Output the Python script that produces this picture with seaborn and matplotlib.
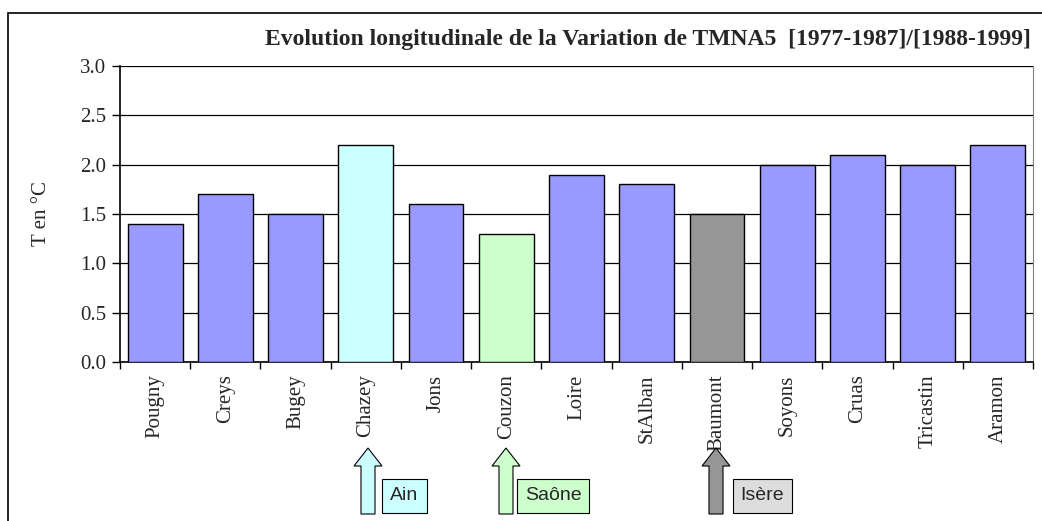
import numpy as np
import matplotlib.pyplot as plt
import matplotlib.patches as mpatches
import seaborn as sns

stations = ["Pougny", "Creys", "Bugey", "Chazey", "Jons", "Couzon", "Loire",
            "StAlban", "Baumont", "Soyons", "Cruas", "Tricastin", "Aramon"]
values = [1.4, 1.7, 1.5, 2.2, 1.6, 1.3, 1.9, 1.8, 1.5, 2.0, 2.1, 2.0, 2.2]
bar_colors = ["#9999FF", "#9999FF", "#9999FF", "#CCFFFF", "#9999FF", "#CCFFCC",
              "#9999FF", "#9999FF", "#969696", "#9999FF", "#9999FF", "#9999FF", "#9999FF"]

# tributaries : (label, arrow colour, box colour)
rivers = ["Ain", "Saône", "Isère"]
river_arrow_colors = ["#CCFFFF", "#CCFFCC", "#969696"]
river_box_colors = ["#CCFFFF", "#CCFFCC", "#DDDDDD"]

sns.set_style("white")
plt.rcParams['font.family'] = ['Liberation Serif', 'DejaVu Serif']

W, H = 1042, 521
fig = plt.figure(figsize=(W / 100, H / 100), dpi=100)
ax = fig.add_axes([120 / W, 1 - 362 / H, (1033 - 120) / W, (362 - 66) / H])

sns.barplot(x=stations, y=values, hue=stations, palette=bar_colors, legend=False,
            width=0.78, edgecolor="black", linewidth=1.0, saturation=1, ax=ax, zorder=3)

ax.set_ylim(0, 3.0)
ax.set_xlim(-0.5, len(stations) - 0.5)
ax.set_yticks(np.arange(0, 3.01, 0.5))
ax.set_yticklabels([f"{v:.1f}" for v in np.arange(0, 3.01, 0.5)], fontsize=15)
ax.yaxis.grid(True, color="black", linewidth=0.9, zorder=0)
ax.set_axisbelow(True)

ax.set_xticks(range(len(stations)))
ax.set_xticklabels(stations, rotation=90, fontsize=15)
ax.tick_params(axis="x", which="major", length=0, pad=9)
ax.set_xticks(np.arange(-0.5, len(stations), 1), minor=True)
ax.tick_params(axis="x", which="minor", length=5, width=1, color="black", direction="out", bottom=True)
ax.tick_params(axis="y", length=6, width=1, color="black", direction="out", left=True, pad=4)

for side in ["left", "bottom"]:
    ax.spines[side].set_color("black")
    ax.spines[side].set_linewidth(1.2)
ax.spines["top"].set_visible(False)
ax.spines["right"].set_color("#808080")

ax.set_ylabel("")
fig.text(42 / W, 1 - 214 / H, "T en °C", rotation=90, ha="center", va="center", fontsize=15)

fig.text(1031 / W, 1 - 40 / H,
         "Evolution longitudinale de la Variation de TMNA5  [1977-1987]/[1988-1999]",
         ha="right", va="center", fontsize=17, fontweight="bold")

# outer frame of the chart
fig.add_artist(mpatches.Rectangle((8 / W, -0.1), 1.2, 1.1 - 13 / H, fill=False,
                                  edgecolor="black", linewidth=1.2,
                                  transform=fig.transFigure))

# arrows + tributary labels (pixel positions, drawn in inches so the shape is not distorted)
arrow_x = [368, 506, 716]
box_x = [(382, 427), (517, 589), (733, 792)]
tr = fig.dpi_scale_trans
for name, ac, bc, ctr, (bx0, bx1) in zip(rivers, river_arrow_colors, river_box_colors, arrow_x, box_x):
    arr = mpatches.FancyArrow(ctr / 100, (H - 514) / 100, 0, (514 - 448) / 100,
                              width=14 / 100, head_width=28 / 100, head_length=18 / 100,
                              length_includes_head=True, facecolor=ac, edgecolor="black",
                              linewidth=0.8, transform=tr)
    fig.add_artist(arr)
    fig.add_artist(mpatches.Rectangle((bx0 / 100, (H - 513) / 100), (bx1 - bx0) / 100, 34 / 100,
                                      facecolor=bc, edgecolor="black", linewidth=0.8,
                                      transform=tr))
    fig.text((bx0 + bx1) / 2 / W, 1 - 496 / H, name, ha="center", va="center",
             fontsize=14, family=["Liberation Sans", "DejaVu Sans"])

fig.savefig("out.png", dpi=100)
